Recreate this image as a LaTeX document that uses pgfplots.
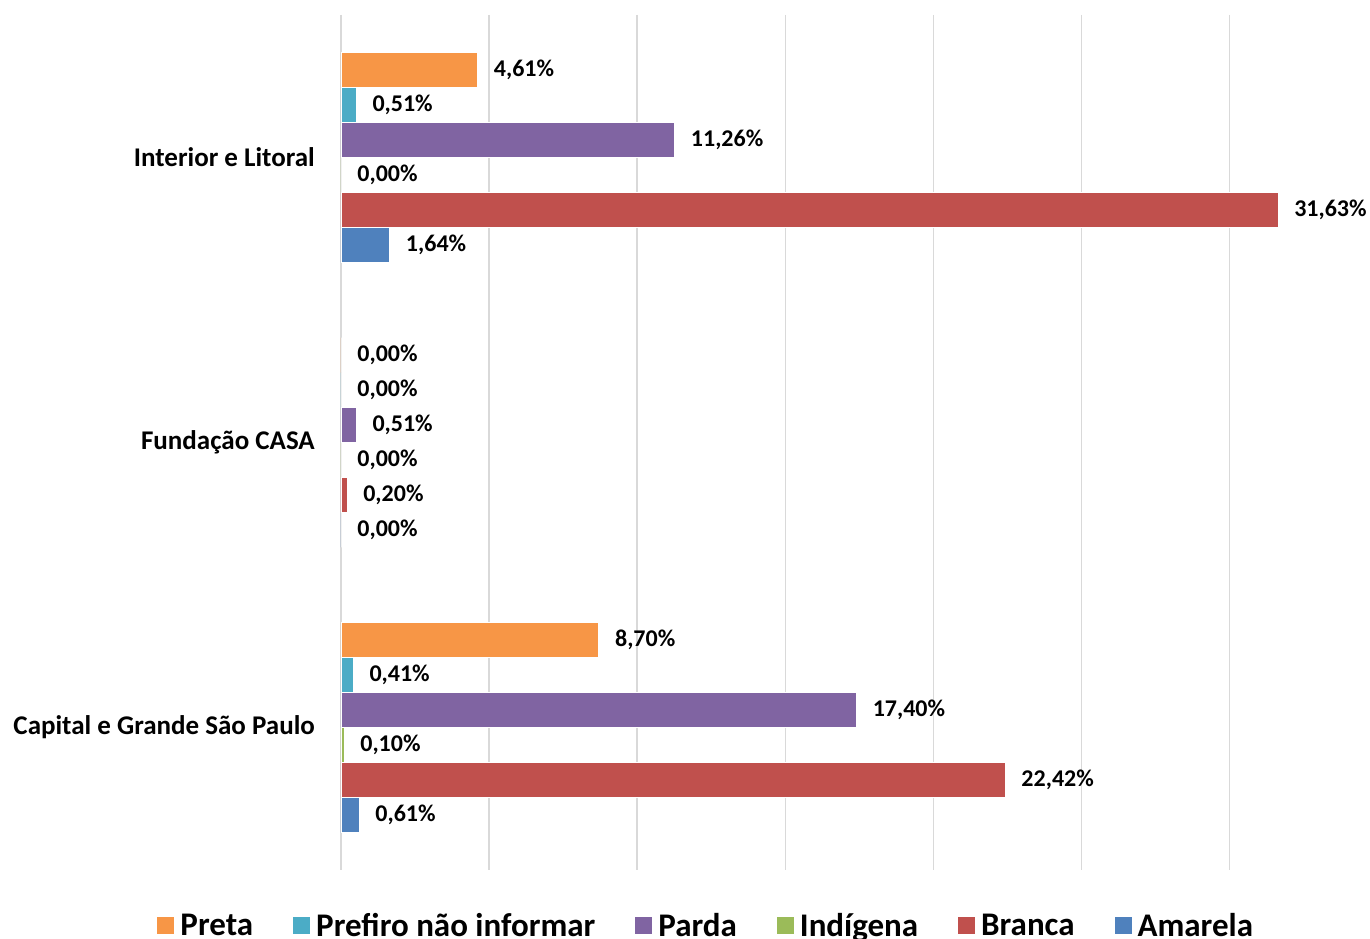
\documentclass[border=0pt]{standalone}
\usepackage{pgfplots}
\pgfplotsset{compat=1.18}
\usepackage{fontspec}
\setmainfont{Carlito}
\definecolor{preta}{HTML}{F79646}
\definecolor{prefiro}{HTML}{4BACC6}
\definecolor{parda}{HTML}{8064A2}
\definecolor{indigena}{HTML}{9BBB59}
\definecolor{branca}{HTML}{C0504D}
\definecolor{amarela}{HTML}{4F81BD}
\definecolor{gridc}{HTML}{D9D9D9}
\begin{document}
\begin{tikzpicture}
\begin{axis}[
  scale only axis,
  width=1029pt, height=855pt,
  xmin=0, xmax=34.74,
  ymin=-0.5, ymax=2.5,
  y dir=reverse,
  xbar,
  xtick={0,5,10,15,20,25,30},
  xticklabels={},
  xmajorgrids=true,
  major grid style={draw=gridc, line width=1.5pt},
  major tick length=0pt,
  axis line style={draw=none},
  ytick={0,1,2},
  yticklabels={Interior e Litoral, Fundação CASA, Capital e Grande São Paulo},
  yticklabel style={font=\fontsize{27}{31}\selectfont\bfseries, inner sep=0pt, xshift=-26pt},
  point meta=x,
  nodes near coords={\pgfmathprintnumber[fixed, fixed zerofill, precision=2, use comma, assume math mode=true]{\pgfplotspointmeta}\%},
  nodes near coords style={font=\fontsize{24}{28}\selectfont\bfseries, anchor=west, inner sep=0pt, xshift=16pt, text=black},
  bar width=0.1228,
  legend columns=-1,
  legend style={draw=none, fill=none, at={(axis description cs:0.355,-0.0655)}, anchor=center,
    font=\fontsize{33}{37}\selectfont\bfseries,
    /tikz/every even column/.append style={column sep=38pt},
    /tikz/every odd column/.append style={column sep=4pt}},
  legend image code/.code={\fill[#1, draw=none] (0pt,-8pt) rectangle (17pt,9pt);},
]
\addplot[fill=preta, draw=white, line width=0.8pt, bar shift=-0.307] coordinates {(4.61,0) (0,1) (8.70,2)};
\addplot[fill=prefiro, draw=white, line width=0.8pt, bar shift=-0.1842] coordinates {(0.51,0) (0,1) (0.41,2)};
\addplot[fill=parda, draw=white, line width=0.8pt, bar shift=-0.0614] coordinates {(11.26,0) (0.51,1) (17.40,2)};
\addplot[fill=indigena, draw=white, line width=0.8pt, bar shift=0.0614] coordinates {(0,0) (0,1) (0.10,2)};
\addplot[fill=branca, draw=white, line width=0.8pt, bar shift=0.1842] coordinates {(31.63,0) (0.20,1) (22.42,2)};
\addplot[fill=amarela, draw=white, line width=0.8pt, bar shift=0.307] coordinates {(1.64,0) (0,1) (0.61,2)};
\legend{Preta, Prefiro não informar, Parda, Indígena, Branca, Amarela}
\coordinate (tl) at (axis description cs:0,1);
\end{axis}
\pgfresetboundingbox
\path[use as bounding box] ([shift={(-341pt,15pt)}]tl) rectangle ([shift={(1029pt,-924pt)}]tl);
\end{tikzpicture}
\end{document}
